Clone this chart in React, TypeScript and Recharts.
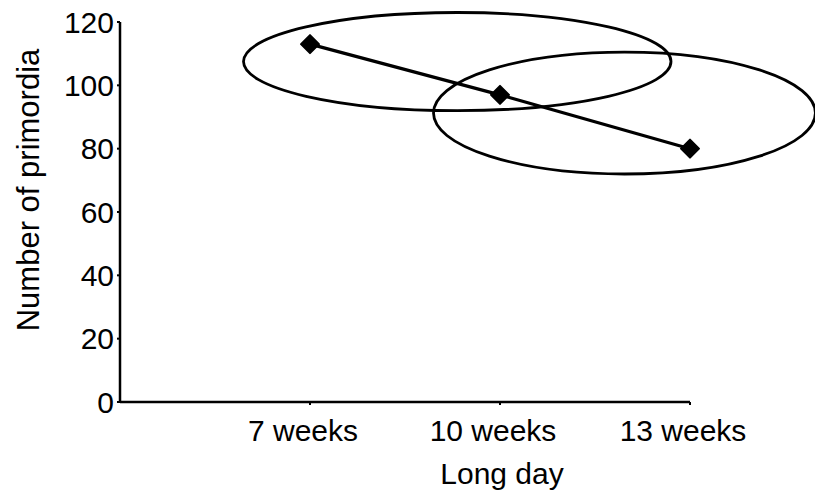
import { LineChart, Line, XAxis, YAxis, ReferenceArea } from "recharts";

// x positions are 1..3, the axis starts one step before "7 weeks"
const categories = ["7 weeks", "10 weeks", "13 weeks"];
const primordia = [113, 97, 80];
const yTicks = [0, 20, 40, 60, 80, 100, 120];

// bounding boxes of the two ellipses (data units)
const ellipseXMin = [0.65, 1.65];
const ellipseXMax = [2.9, 3.66];
const ellipseYMin = [92, 72];
const ellipseYMax = [123, 110.5];

const FONT = "'Liberation Sans', Arial, sans-serif";

const data = categories.map((name, i) => ({ x: i + 1, name, primordia: primordia[i] }));

function Diamond(props: any) {
  const { cx, cy, index } = props;
  if (cx == null || cy == null) return null;
  const r = 9;
  return (
    <polygon
      key={`d-${index}`}
      points={`${cx},${cy - r} ${cx + r},${cy} ${cx},${cy + r} ${cx - r},${cy}`}
      fill="#000"
      stroke="#000"
      strokeWidth={2}
      strokeLinejoin="round"
    />
  );
}

function EllipseShape(props: any) {
  const { x, y, width, height } = props;
  return (
    <ellipse
      cx={x + width / 2}
      cy={y + height / 2}
      rx={Math.abs(width) / 2}
      ry={Math.abs(height) / 2}
      fill="none"
      stroke="#000"
      strokeWidth={2.8}
    />
  );
}

export default function App() {
  return (
    <div style={{ position: "absolute", left: 0, top: 0, background: "#fff" }}>
      <LineChart
        width={815}
        height={491}
        data={data}
        margin={{ top: 22, right: 125, bottom: 29, left: 0 }}
      >
        <XAxis
          dataKey="x"
          type="number"
          domain={[0, 3]}
          ticks={[1, 2, 3]}
          tickFormatter={(v) => categories[v - 1]}
          axisLine={{ stroke: "#000", strokeWidth: 2.5 }}
          tickLine={{ stroke: "#000", strokeWidth: 2 }}
          tickSize={3}
          tickMargin={15}
          tick={{ fill: "#000", fontSize: 30, fontFamily: FONT, dx: -7 }}
          height={60}
          label={{
            content: (p: any) => {
              const vb = p.viewBox;
              return (
                <text
                  x={vb.x + vb.width / 2 + 97}
                  y={vb.y + 82}
                  textAnchor="middle"
                  fill="#000"
                  fontSize={30}
                  fontFamily={FONT}
                >
                  Long day
                </text>
              );
            },
          }}
        />
        <YAxis
          domain={[0, 120]}
          ticks={yTicks}
          axisLine={{ stroke: "#000", strokeWidth: 2.5 }}
          tickLine={{ stroke: "#000", strokeWidth: 2 }}
          tickSize={3}
          tickMargin={3}
          tick={{ fill: "#000", fontSize: 30, fontFamily: FONT }}
          width={120}
          label={{
            content: (p: any) => {
              const vb = p.viewBox;
              const cx = vb.x + 28;
              const cy = vb.y + vb.height / 2 - 22;
              return (
                <text
                  x={cx}
                  y={cy}
                  transform={`rotate(-90, ${cx}, ${cy})`}
                  textAnchor="middle"
                  dominantBaseline="central"
                  fill="#000"
                  fontSize={31}
                  fontFamily={FONT}
                >
                  Number of primordia
                </text>
              );
            },
          }}
        />
        {ellipseXMin.map((x1, i) => (
          <ReferenceArea
            key={`e-${i}`}
            x1={x1}
            x2={ellipseXMax[i]}
            y1={ellipseYMin[i]}
            y2={ellipseYMax[i]}
            ifOverflow="visible"
            shape={<EllipseShape />}
          />
        ))}
        <Line
          dataKey="primordia"
          stroke="#000"
          strokeWidth={3.2}
          dot={<Diamond />}
          activeDot={false}
          isAnimationActive={false}
        />
      </LineChart>
    </div>
  );
}
